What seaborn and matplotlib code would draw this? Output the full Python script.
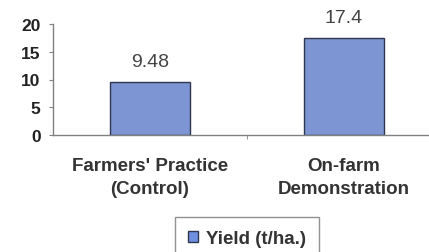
import matplotlib
matplotlib.use("Agg")
import matplotlib.pyplot as plt
import seaborn as sns
import pandas as pd

categories = ["Farmers' Practice\n(Control)", "On-farm\nDemonstration"]
yields = [9.48, 17.4]
value_labels = ["9.48", "17.4"]
series_name = "Yield (t/ha.)"
y_ticks = [0, 5, 10, 15, 20]

df = pd.DataFrame({"Treatment": categories, "Yield": yields, "Series": series_name})

sns.set_style("white")
plt.rcParams['font.family'] = ['Liberation Sans', 'DejaVu Sans']

fig = plt.figure(figsize=(4.29, 2.53), dpi=100)
ax = fig.add_axes([53 / 429, 117 / 253, 388 / 429, 111 / 253])

sns.barplot(data=df, x="Treatment", y="Yield", hue="Series", ax=ax,
            palette=["#6f8fe0"], width=0.41, edgecolor="#2f3650",
            linewidth=1.0, legend=False)

ax.set_xlim(-0.5, 1.5)
ax.set_ylim(0, 20)
ax.set_yticks(y_ticks)
ax.set_xlabel("")
ax.set_ylabel("")

# data labels above bars
for i, txt in enumerate(value_labels):
    ax.annotate(txt, (i, yields[i]), xytext=(0, 9), textcoords="offset points",
                ha="center", va="bottom", fontsize=14, color="#444444")

sns.despine(ax=ax, top=True, right=True)
for side in ["left", "bottom"]:
    ax.spines[side].set_color("#808080")
    ax.spines[side].set_linewidth(1.0)

ax.tick_params(axis="y", which="major", left=True, length=3, color="#808080",
               labelsize=12.5, labelcolor="#222222", pad=6)
for lbl in ax.get_yticklabels():
    lbl.set_fontweight("bold")
ax.tick_params(axis="x", which="major", bottom=False, labelsize=13.5,
               labelcolor="#333333", pad=12)
ax.set_xticks([0.5, 1.5], minor=True)
ax.tick_params(axis="x", which="minor", bottom=True, length=3, color="#808080")
for lbl in ax.get_xticklabels():
    lbl.set_linespacing(1.5)
    lbl.set_fontweight("bold")

handle = plt.Rectangle((0, 0), 1, 1, facecolor="#6f8fe0", edgecolor="#2f3650", linewidth=1.0)
leg = fig.legend([handle], [series_name], loc="upper left",
                 bbox_to_anchor=(175 / 429, 1 - 218 / 253),
                 frameon=True, fancybox=False, fontsize=13.5,
                 handlelength=0.55, handleheight=0.55, handletextpad=0.4,
                 borderpad=0.7, borderaxespad=0)
leg.get_frame().set_edgecolor("#777777")
leg.get_frame().set_linewidth(1.0)
for t in leg.get_texts():
    t.set_color("#333333")
    t.set_fontweight("bold")

fig.savefig("out.png", dpi=100)
